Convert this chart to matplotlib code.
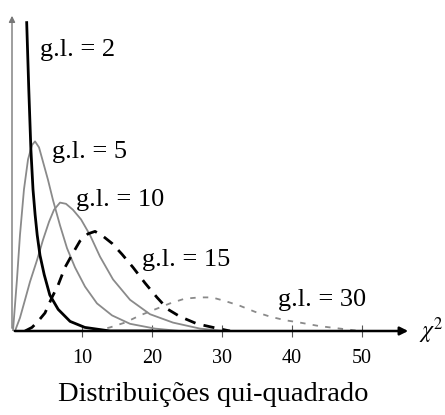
import matplotlib
matplotlib.use("Agg")
import matplotlib.pyplot as plt

plt.rcParams["font.family"] = ["Liberation Serif", "DejaVu Serif"]
plt.rcParams["mathtext.fontset"] = "stix"

# curves (chi2 value, height)
df2_x = [2.1, 2.4, 2.7, 3.0, 3.3, 3.6, 4.0, 4.6, 5.4, 6.6, 8.3, 10.4, 14.0, 20.0]
df2_y = [0.257, 0.201, 0.151, 0.118, 0.097, 0.080, 0.063, 0.047, 0.030, 0.018, 0.008, 0.003, 0.0, 0.0]

df5_x = [0.14, 0.71, 1.14, 1.71, 2.29, 2.86, 3.29, 3.86, 4.43, 5.14, 5.86, 6.86, 7.86, 9.0,
         10.43, 12.14, 14.29, 16.86, 20.43, 24.0]
df5_y = [0, 0.043, 0.080, 0.118, 0.143, 0.155, 0.158, 0.153, 0.141, 0.126, 0.109, 0.088, 0.069,
         0.053, 0.037, 0.023, 0.013, 0.006, 0.002, 0]

df10_x = [0.43, 1.14, 1.86, 2.57, 3.57, 4.43, 5.29, 6.0, 6.86, 7.71, 8.71, 9.86, 11.14, 12.57,
          14.43, 16.86, 19.71, 23.0, 26.86, 30.43]
df10_y = [0, 0.011, 0.026, 0.041, 0.059, 0.076, 0.091, 0.101, 0.107, 0.106, 0.101, 0.093, 0.080,
          0.062, 0.043, 0.026, 0.014, 0.007, 0.002, 0]

df15_x = [1.86, 2.86, 3.71, 4.71, 5.71, 6.57, 7.57, 8.71, 9.71, 10.86, 11.86, 13.0, 14.29, 15.71,
          17.29, 19.0, 20.71, 22.29, 24.0, 26.43, 28.71, 31.14]
df15_y = [0, 0.003, 0.008, 0.015, 0.028, 0.038, 0.053, 0.065, 0.075, 0.081, 0.083, 0.079, 0.073,
          0.064, 0.053, 0.040, 0.028, 0.018, 0.012, 0.006, 0.003, 0]

df30_x = [11.86, 14.0, 16.14, 18.29, 20.43, 22.57, 24.71, 26.86, 28.57, 30.43, 32.57, 34.71,
          36.86, 39.0, 41.14, 44.0, 46.86, 49.71]
df30_y = [0, 0.003, 0.007, 0.013, 0.018, 0.023, 0.027, 0.028, 0.028, 0.025, 0.021, 0.016, 0.012,
          0.009, 0.007, 0.004, 0.002, 0]

ticks = [10, 20, 30, 40, 50]
labels = ["g.l. = 2", "g.l. = 5", "g.l. = 10", "g.l. = 15", "g.l. = 30"]

fig = plt.figure(figsize=(4.45, 4.15), dpi=100)
ax = fig.add_axes([12 / 445, 84 / 415, 399 / 445, 318 / 415])
ax.set_xlim(0, 57)
ax.set_ylim(0, 0.265)

ax.plot(df5_x, df5_y, color="#8a8a8a", lw=1.3)
ax.plot(df10_x, df10_y, color="#8a8a8a", lw=1.3)
ax.plot(df15_x, df15_y, color="black", lw=2.0, dashes=(4, 3))
ax.plot(df30_x, df30_y, color="#8a8a8a", lw=1.3, dashes=(3, 4))
ax.plot(df2_x, df2_y, color="black", lw=2.0)

# axes with arrows
ax.annotate("", xy=(57, 0), xytext=(0, 0),
            arrowprops=dict(arrowstyle="-|>", color="black", lw=1.8, mutation_scale=12))
ax.annotate("", xy=(0, 0.265), xytext=(0, 0),
            arrowprops=dict(arrowstyle="-|>", color="#777777", lw=1.0, mutation_scale=9))
for s in ax.spines.values():
    s.set_visible(False)

ax.set_xticks(ticks)
ax.set_xticklabels([str(t) for t in ticks], fontsize=14.5)
ax.tick_params(axis="x", direction="inout", length=8, width=0.8, color="#555555", pad=9)
ax.set_yticks([])

ax.text(58.2, 0.0, r"$\chi^2$", fontsize=17, ha="left", va="center")

pos = [(4.0, 0.234), (5.7, 0.149), (9.1, 0.109), (18.6, 0.059), (38.0, 0.026)]
for (x, y), lab in zip(pos, labels):
    ax.text(x, y, lab, fontsize=19, ha="left", va="center")

fig.text(213 / 445, 1 - 394 / 415, "Distribuições qui-quadrado", fontsize=20.5,
         ha="center", va="center")

fig.savefig("out.png", dpi=100)
